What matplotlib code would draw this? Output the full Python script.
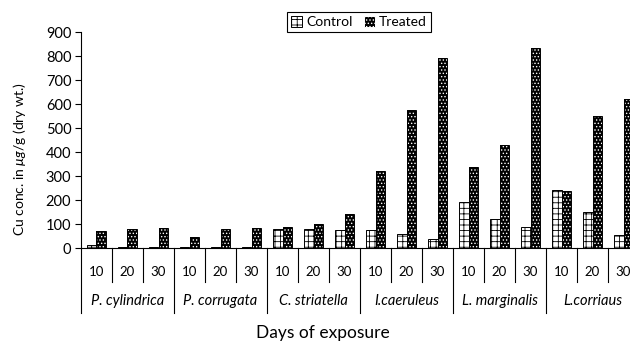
import matplotlib.pyplot as plt
import matplotlib.transforms as mtransforms
from matplotlib.patches import Patch

# data
species = ['P. cylindrica', 'P. corrugata', 'C. striatella',
           'I.caeruleus', 'L. marginalis', 'L.corriaus']
days = ['10', '20', '30']
control = [12, 6, 3, 5, 6, 6, 80, 80, 75, 75, 57, 37, 193, 121, 89, 240, 150, 53]
treated = [71, 78, 83, 46, 80, 83, 87, 100, 142, 321, 575, 790, 337, 429, 835, 236, 551, 621]

plt.rcParams['font.family'] = ['Lato', 'DejaVu Sans']
plt.rcParams['mathtext.fontset'] = 'custom'
plt.rcParams['mathtext.it'] = 'Lato:italic'
plt.rcParams['mathtext.rm'] = 'Lato'
plt.rcParams['mathtext.fallback'] = 'stixsans'
plt.rcParams['hatch.linewidth'] = 0.6

fig = plt.figure(figsize=(6.3, 3.44), dpi=100)
ax = fig.add_axes([81 / 630, 96 / 344, 558 / 630, 216 / 344])

n = len(control)
xc = [i + 0.35 for i in range(n)]
xt = [i + 0.65 for i in range(n)]
w = 0.3

# control: white with brick-like hatch
ax.bar(xc, control, width=w, facecolor='white', edgecolor='black',
       hatch='+++', linewidth=0.7, zorder=2)
# treated: black with white dots, outline drawn on top
ax.bar(xt, treated, width=w, facecolor='black', edgecolor='white',
       hatch='.....', linewidth=0, zorder=2)
ax.bar(xt, treated, width=w, facecolor='none', edgecolor='black',
       linewidth=0.7, zorder=3)

ax.set_xlim(0, n)
ax.set_ylim(0, 900)
ax.set_yticks(range(0, 901, 100))
ax.tick_params(axis='y', direction='out', length=4, width=0.8, labelsize=10.5, pad=3)
ax.set_xticks([])
for s in ['top', 'right']:
    ax.spines[s].set_visible(False)
ax.spines['left'].set_linewidth(0.8)
ax.spines['bottom'].set_linewidth(0.8)

# multi-level x axis
trans = mtransforms.blended_transform_factory(ax.transData, ax.transAxes)
for i in range(n + 1):
    y_end = -0.30 if i % 3 == 0 else -0.157
    ax.plot([i, i], [0, y_end], color='black', lw=0.8, transform=trans, clip_on=False)
for i in range(n):
    ax.text(i + 0.5, -0.111, days[i % 3], transform=trans, ha='center', va='center',
            fontsize=9.5)
for j, name in enumerate(species):
    ax.text(3 * j + 1.5, -0.245, name, transform=trans, ha='center', va='center',
            fontsize=10.5, style='italic')

fig.text(323 / 630, 1 - 333 / 344, 'Days of exposure', ha='center', va='center', fontsize=12.5)
fig.text(20 / 630, 1 - 159 / 344, r'Cu conc. in $\mu g$/g (dry wt.)', rotation=90,
         ha='center', va='center', fontsize=10)

handles = [Patch(facecolor='white', edgecolor='black', hatch='+++', linewidth=0.7),
           Patch(facecolor='black', edgecolor='white', hatch='.....', linewidth=0.7)]
leg = fig.legend(handles, ['Control', 'Treated'], loc='center',
                 bbox_to_anchor=(359 / 630, 1 - 22 / 344), ncol=2, fontsize=10,
                 frameon=True, fancybox=False, edgecolor='black', framealpha=1,
                 handlelength=0.8, handleheight=0.8, handletextpad=0.3,
                 columnspacing=0.8, borderpad=0.3)
leg.get_frame().set_linewidth(0.8)

fig.savefig('out.png', dpi=100)
